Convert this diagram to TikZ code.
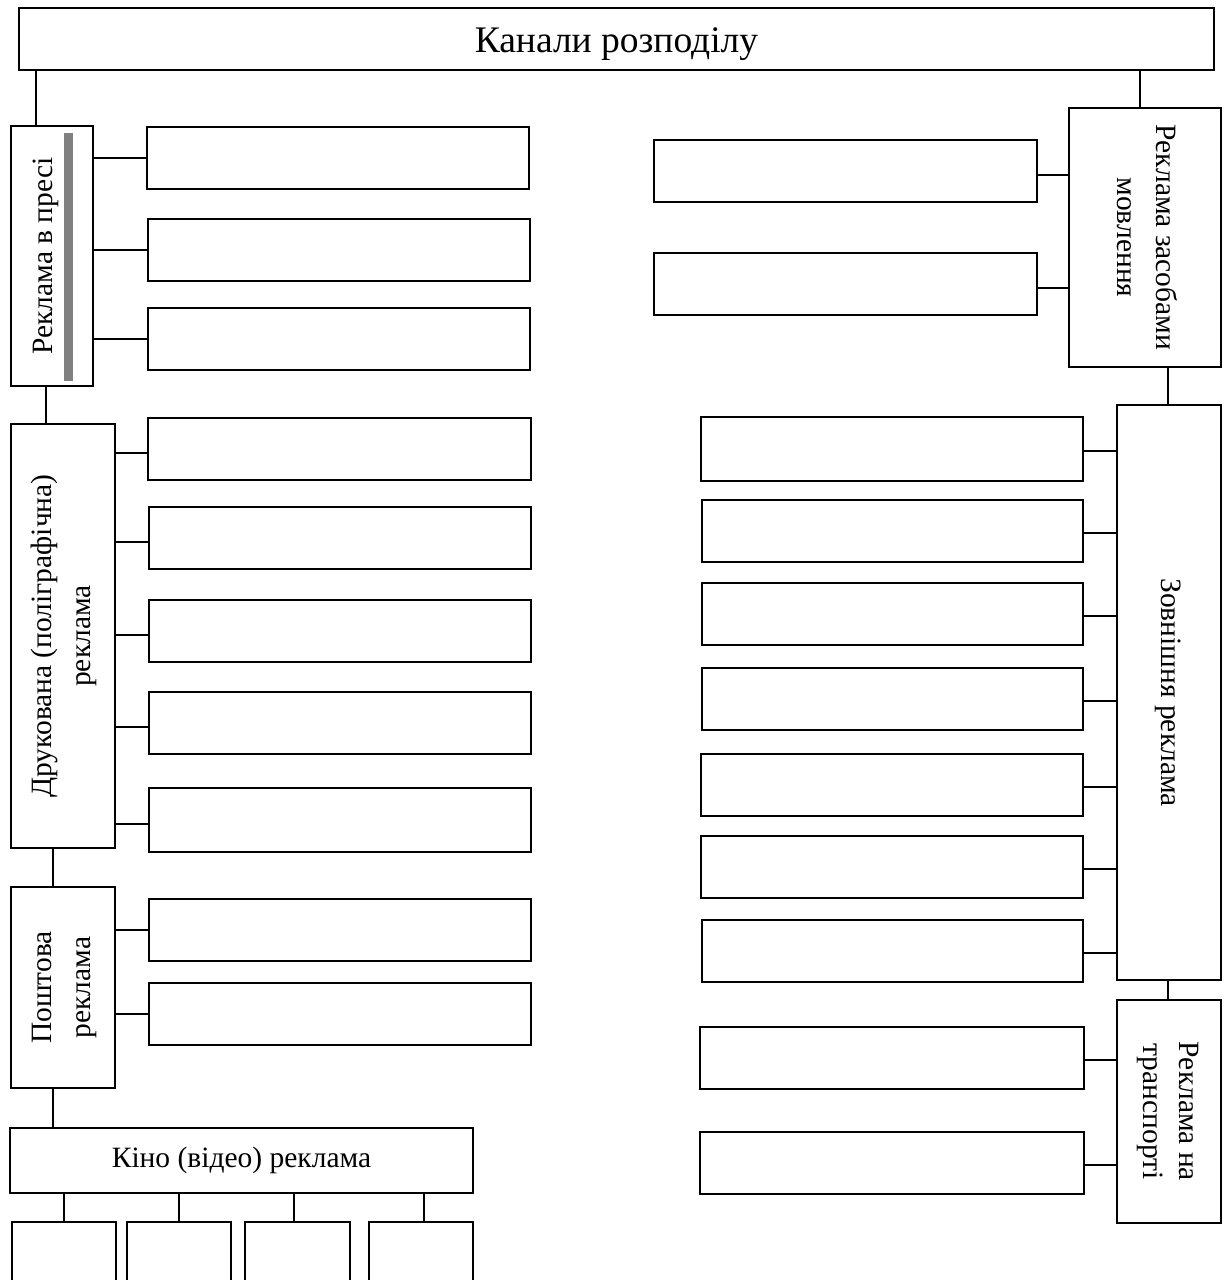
\documentclass[tikz,border=0pt]{standalone}
\usepackage{fontspec}
\setmainfont{Liberation Serif}
\usepackage{graphicx}
\tikzset{
  box/.style={draw, line width=1.8pt, fill=white, inner sep=0pt, outer sep=0pt, align=center},
  conn/.style={line width=1.8pt},
}
% \boxat{name}{x1}{y1}{x2}{y2}{content}
\newcommand\boxat[6]{%
  \node[box, minimum width={(#4-#2)*1pt}, minimum height={(#5-#3)*1pt}]
    (#1) at ({(#2+#4)/2},{(#3+#5)/2}) {#6};}
\newcommand\bodyfont{\fontsize{29.5}{39}\selectfont}
\newcommand\upl[1]{\rotatebox{90}{\begin{tabular}{@{}c@{}}#1\end{tabular}}}
\newcommand\dnl[1]{\rotatebox{-90}{\begin{tabular}{@{}c@{}}#1\end{tabular}}}
\begin{document}
\begin{tikzpicture}[x=1pt,y=-1pt]
\useasboundingbox (0,0) rectangle (1226,1280);
\clip (0,0) rectangle (1226,1280);

% root
\boxat{top}{19}{8}{1214}{70}{\raisebox{-13pt}[0pt][0pt]{\fontsize{37.5}{42}\selectfont Канали розподілу}}

% ---- left column ----
\boxat{press}{11}{126}{93}{386}{\bodyfont\upl{Реклама в пресі}\hspace*{14pt}}
\fill[black!50] (64,133) rectangle (73,381);
\boxat{p1}{147}{127}{529}{189}{}
\boxat{p2}{148}{219}{530}{281}{}
\boxat{p3}{148}{308}{530}{370}{}

\boxat{druk}{11}{424}{115}{848}{\bodyfont\upl{Друкована (поліграфічна)\\реклама}}
\boxat{d1}{148}{418}{531}{480}{}
\boxat{d2}{149}{507}{531}{569}{}
\boxat{d3}{149}{600}{531}{662}{}
\boxat{d4}{149}{692}{531}{754}{}
\boxat{d5}{149}{788}{531}{852}{}

\boxat{posht}{11}{887}{115}{1088}{\bodyfont\upl{Поштова\\реклама}}
\boxat{q1}{149}{899}{531}{961}{}
\boxat{q2}{149}{983}{531}{1045}{}

\boxat{kino}{10}{1128}{473}{1193}{\bodyfont Кіно (відео) реклама}
\boxat{k1}{12}{1222}{116}{1310}{}
\boxat{k2}{127}{1222}{231}{1310}{}
\boxat{k3}{245}{1222}{350}{1310}{}
\boxat{k4}{369}{1222}{473}{1310}{}

% ---- right column ----
\boxat{mov}{1069}{108}{1221}{367}{\bodyfont\dnl{Реклама засобами\\мовлення}}
\boxat{m1}{654}{140}{1037}{202}{}
\boxat{m2}{654}{253}{1037}{315}{}

\boxat{zovn}{1117}{405}{1221}{980}{\bodyfont\dnl{Зовнішня реклама}}
\boxat{z1}{701}{417}{1083}{481}{}
\boxat{z2}{702}{500}{1083}{562}{}
\boxat{z3}{702}{583}{1083}{645}{}
\boxat{z4}{702}{668}{1083}{730}{}
\boxat{z5}{701}{754}{1083}{816}{}
\boxat{z6}{701}{836}{1083}{898}{}
\boxat{z7}{702}{920}{1083}{982}{}

\boxat{trans}{1117}{1000}{1221}{1223}{\fontsize{29.5}{36}\selectfont\dnl{Реклама на\\транспорті}}
\boxat{t1}{700}{1027}{1084}{1089}{}
\boxat{t2}{700}{1132}{1084}{1194}{}

% ---- vertical links ----
\draw[conn] (press.north -| 36,0) -- (top.south -| 36,0);
\draw[conn] (mov.north -| 1140,0) -- (top.south -| 1140,0);
\draw[conn] (druk.north -| 46,0) -- (press.south -| 46,0);
\draw[conn] (posht.north -| 53,0) -- (druk.south -| 53,0);
\draw[conn] (kino.north -| 53,0) -- (posht.south -| 53,0);
\draw[conn] (zovn.north -| 1168,0) -- (mov.south -| 1168,0);
\draw[conn] (trans.north -| 1168,0) -- (zovn.south -| 1168,0);
\draw[conn] (k1.north -| 64,0) -- (kino.south -| 64,0);
\draw[conn] (k2.north -| 179,0) -- (kino.south -| 179,0);
\draw[conn] (k3.north -| 294,0) -- (kino.south -| 294,0);
\draw[conn] (k4.north -| 424,0) -- (kino.south -| 424,0);

% ---- horizontal links ----
\foreach \c in {p1,p2,p3}
  \draw[conn] (\c.west) -- (\c.west -| press.east);
\foreach \c in {d1,d2,d3,d4,d5}
  \draw[conn] ([yshift=-4pt]\c.west) -- ([yshift=-4pt]\c.west -| druk.east);
\foreach \c in {q1,q2}
  \draw[conn] (\c.west) -- (\c.west -| posht.east);
\foreach \c in {m1,m2}
  \draw[conn] ([yshift=-4pt]\c.east) -- ([yshift=-4pt]\c.east -| mov.west);
\foreach \c in {z1,z2,z3,z4,z5,z6,z7}
  \draw[conn] ([yshift=-2pt]\c.east) -- ([yshift=-2pt]\c.east -| zovn.west);
\foreach \c in {t1,t2}
  \draw[conn] ([yshift=-2pt]\c.east) -- ([yshift=-2pt]\c.east -| trans.west);
\end{tikzpicture}
\end{document}
